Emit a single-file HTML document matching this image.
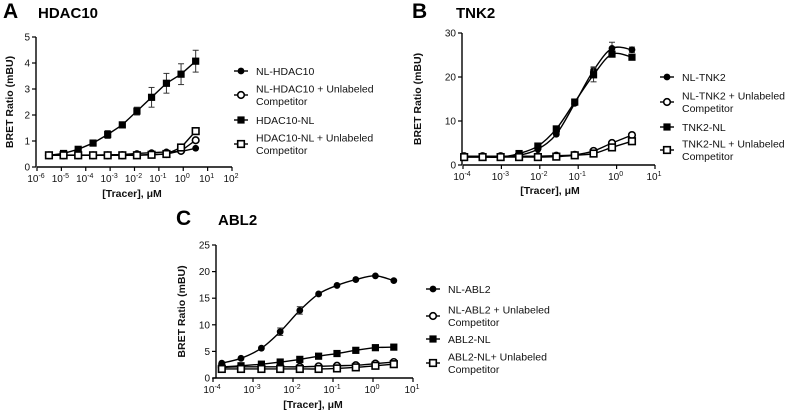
<!DOCTYPE html>
<html><head><meta charset="utf-8">
<style>
body{margin:0;background:#fff;}
svg{display:block;font-family:"Liberation Sans",Arial,sans-serif;}
.tick{font-size:10px;fill:#111;}
.axt{font-size:10.5px;font-weight:bold;fill:#111;}
.leg{font-size:10.5px;fill:#111;}
.pl{font-size:21px;font-weight:bold;fill:#000;}
.pt{font-size:15px;font-weight:bold;fill:#000;}
</style></head><body>
<svg id="fig" width="785" height="414" viewBox="0 0 785 414" xmlns="http://www.w3.org/2000/svg"></svg>
<script>
// ---------- Panel A: HDAC10 ----------
const aLogX = [-5.51,-4.91,-4.31,-3.70,-3.10,-2.50,-1.90,-1.30,-0.69,-0.09,0.51];
const aNlHdac = [0.45,0.46,0.46,0.46,0.47,0.48,0.52,0.55,0.58,0.60,0.72];
const aNlHdacComp = [0.45,0.45,0.45,0.45,0.45,0.45,0.46,0.48,0.50,0.62,1.03];
const aHdacNl = [0.45,0.52,0.68,0.92,1.25,1.62,2.15,2.68,3.22,3.57,4.07];
const aHdacNlErr = [0.02,0.03,0.05,0.06,0.15,0.08,0.15,0.38,0.38,0.4,0.42];
const aHdacNlComp = [0.45,0.45,0.45,0.45,0.45,0.45,0.45,0.47,0.50,0.75,1.38];
const aYTicks = [0,1,2,3,4,5];
const aXTicks = [-6,-5,-4,-3,-2,-1,0,1,2];
const aLegend = [["NL-HDAC10"],["NL-HDAC10 + Unlabeled","Competitor"],["HDAC10-NL"],["HDAC10-NL + Unlabeled","Competitor"]];

// ---------- Panel B: TNK2 ----------
const bLogX = [-3.97,-3.49,-3.02,-2.54,-2.05,-1.57,-1.09,-0.6,-0.12,0.4];
const bNlTnk = [2.0,2.0,2.0,2.2,3.6,7.0,14.0,21.5,26.5,26.2];
const bNlTnkErr = [0,0,0,0,0,0,0,0.8,1.4,0.6];
const bNlTnkComp = [2.0,2.0,2.0,2.0,2.0,2.1,2.3,3.2,5.0,6.8];
const bTnkNl = [1.8,1.8,1.8,2.6,4.3,8.2,14.3,20.5,25.2,24.5];
const bTnkNlErr = [0,0,0,0,0,0,0,1.6,0,0];
const bTnkNlComp = [1.8,1.8,1.8,1.8,1.8,1.9,2.2,2.6,4.0,5.4];
const bYTicks = [0,10,20,30];
const bXTicks = [-4,-3,-2,-1,0,1];
const bLegend = [["NL-TNK2"],["NL-TNK2 + Unlabeled","Competitor"],["TNK2-NL"],["TNK2-NL + Unlabeled","Competitor"]];

// ---------- Panel C: ABL2 ----------
const cLogX = [-3.78,-3.3,-2.79,-2.32,-1.83,-1.36,-0.9,-0.43,0.06,0.52];
const cNlAbl = [2.8,3.7,5.6,8.7,12.7,15.8,17.4,18.5,19.2,18.3];
const cNlAblErr = [0,0,0,0.7,0.7,0,0,0,0,0];
const cNlAblComp = [2.0,2.1,2.1,2.1,2.1,2.2,2.3,2.4,2.7,3.0];
const cAblNl = [2.1,2.3,2.6,3.0,3.5,4.1,4.6,5.2,5.7,5.8];
const cAblNlComp = [1.7,1.7,1.7,1.7,1.7,1.7,1.8,2.0,2.3,2.6];
const cYTicks = [0,5,10,15,20,25];
const cXTicks = [-4,-3,-2,-1,0,1];
const cLegend = [["NL-ABL2"],["NL-ABL2 + Unlabeled","Competitor"],["ABL2-NL"],["ABL2-NL+ Unlabeled","Competitor"]];

const NS="http://www.w3.org/2000/svg";
const svg=document.getElementById('fig');
function mk(tag,attrs,parent){const e=document.createElementNS(NS,tag);for(const k in attrs)e.setAttribute(k,attrs[k]);(parent||svg).appendChild(e);return e;}
function txt(s,x,y,cls,parent,anchor){const t=mk('text',{x:x,y:y,class:cls,'text-anchor':anchor||'start'},parent);t.textContent=s;return t;}

function marker(g,type,x,y){
  let m;
  if(type==='fc'){m=mk('circle',{cx:x,cy:y,r:3.4,fill:'#000'},g);}
  else if(type==='oc'){m=mk('circle',{cx:x,cy:y,r:3.3,fill:'#fff',stroke:'#000','stroke-width':1.6},g);}
  else if(type==='fs'){m=mk('rect',{x:x-3.6,y:y-3.6,width:7.2,height:7.2,fill:'#000'},g);}
  else {m=mk('rect',{x:x-3.3,y:y-3.3,width:6.6,height:6.6,fill:'#fff',stroke:'#000','stroke-width':1.6},g);}
  return m;
}
function smoothPath(pts){
  let d='M'+pts[0][0]+','+pts[0][1];
  for(let i=0;i<pts.length-1;i++){
    const p0=pts[Math.max(0,i-1)],p1=pts[i],p2=pts[i+1],p3=pts[Math.min(pts.length-1,i+2)];
    const c1x=p1[0]+(p2[0]-p0[0])/6,c1y=p1[1]+(p2[1]-p0[1])/6;
    const c2x=p2[0]-(p3[0]-p1[0])/6,c2y=p2[1]-(p3[1]-p1[1])/6;
    d+=' C'+c1x+','+c1y+' '+c2x+','+c2y+' '+p2[0]+','+p2[1];
  }
  return d;
}

function panel(cfg){
  const g=mk('g',{});
  
  
  const X=v=>cfg.x0+(v-cfg.xmin)/(cfg.xmax-cfg.xmin)*(cfg.x1-cfg.x0);
  const Y=v=>cfg.y0-(v/cfg.ymax)*(cfg.y0-cfg.y1);
  const pl=txt(cfg.letter,cfg.lx,cfg.ly,'pl',g);
  
  const pt=txt(cfg.title,cfg.tx,cfg.ly,'pt',g);
  
  const ya=mk('line',{x1:cfg.ax,y1:cfg.y0,x2:cfg.ax,y2:cfg.y1,stroke:'#000','stroke-width':1.4},g);
  
  const xa=mk('line',{x1:X(cfg.xmin),y1:cfg.y0,x2:X(cfg.xmax),y2:cfg.y0,stroke:'#000','stroke-width':1.4},g);
  
  cfg.yt.forEach(v=>{
    mk('line',{x1:cfg.ax-4,y1:Y(v),x2:cfg.ax,y2:Y(v),stroke:'#000','stroke-width':1.2},g);
    const t=txt(String(v),cfg.ax-6,Y(v)+3.5,'tick',g,'end');
    
  });
  cfg.xt.forEach(v=>{
    mk('line',{x1:X(v),y1:cfg.y0,x2:X(v),y2:cfg.y0+4,stroke:'#000','stroke-width':1.2},g);
    const t=mk('text',{x:X(v)-1,y:cfg.y0+15,class:'tick','text-anchor':'middle'},g);
    
    const a=mk('tspan',{},t);a.textContent='10';
    const b=mk('tspan',{dy:-4,'font-size':'7px'},t);b.textContent=String(v);
  });
  const yt=txt('BRET Ratio (mBU)',0,0,'axt',g,'middle');
  yt.setAttribute('transform','translate('+cfg.ytx+','+((cfg.y0+cfg.y1)/2)+') rotate(-90)');
  
  const xt=txt('[Tracer], μM',cfg.xtx,cfg.xty,'axt',g,'middle');
  
  cfg.series.forEach(s=>{
    const sg=mk('g',{},g);
    
    
    const pts=cfg.lx_.map((lx,i)=>[X(lx),Y(s.v[i])]);
    if(cfg.smooth){const p=mk('path',{d:smoothPath(pts),fill:'none',stroke:'#000','stroke-width':1.4},sg);}
    else{const p=mk('polyline',{points:pts.map(p=>p.join(',')).join(' '),fill:'none',stroke:'#000','stroke-width':1.4},sg);}
    if(s.err){s.err.forEach((e,i)=>{if(e>0){const x=pts[i][0];const a=Y(s.v[i]+e),b=Y(s.v[i]-e);
      mk('line',{x1:x,y1:a,x2:x,y2:b,stroke:'#333','stroke-width':1},sg);
      mk('line',{x1:x-3,y1:a,x2:x+3,y2:a,stroke:'#333','stroke-width':1},sg);
      mk('line',{x1:x-3,y1:b,x2:x+3,y2:b,stroke:'#333','stroke-width':1},sg);}});}
    pts.forEach(p=>{const m=marker(sg,s.type,p[0],p[1]);
      
      });
  });
  const types=['fc','oc','fs','os'];
  cfg.legend.forEach((lines,i)=>{
    const lg=mk('g',{},g);
    
    
    const cy=cfg.legY[i];
    mk('line',{x1:cfg.legX-7,y1:cy,x2:cfg.legX+7,y2:cy,stroke:'#000','stroke-width':1.4},lg);
    marker(lg,types[i],cfg.legX,cy);
    if(lines.length===1)txt(lines[0],cfg.legX+15,cy+3.8,'leg',lg);
    else{txt(lines[0],cfg.legX+15,cy-2.5,'leg',lg);txt(lines[1],cfg.legX+15,cy+10,'leg',lg);}
  });
}

panel({name:'panel-a-hdac10',letter:'A',title:'HDAC10',lx:3,tx:38,ly:18,ax:36,x0:37,x1:232,xmin:-6,xmax:2,y0:167,y1:37,ymax:5,
  yt:aYTicks,xt:aXTicks,ytx:13,xtx:132,xty:197,lx_:aLogX,smooth:false,
  series:[{name:'series-nl-hdac10',type:'fc',v:aNlHdac},{name:'series-nl-hdac10-competitor',type:'oc',v:aNlHdacComp},
          {name:'series-hdac10-nl',type:'fs',v:aHdacNl,err:aHdacNlErr},{name:'series-hdac10-nl-competitor',type:'os',v:aHdacNlComp}],
  legend:aLegend,legX:241,legY:[71,95,120,144]});

panel({name:'panel-b-tnk2',letter:'B',title:'TNK2',lx:412,tx:456,ly:18,ax:462,x0:463,x1:655,xmin:-4,xmax:1,y0:165,y1:33,ymax:30,
  yt:bYTicks,xt:bXTicks,ytx:421,xtx:550,xty:194,lx_:bLogX,smooth:true,
  series:[{name:'series-nl-tnk2',type:'fc',v:bNlTnk,err:bNlTnkErr},{name:'series-nl-tnk2-competitor',type:'oc',v:bNlTnkComp},
          {name:'series-tnk2-nl',type:'fs',v:bTnkNl,err:bTnkNlErr},{name:'series-tnk2-nl-competitor',type:'os',v:bTnkNlComp}],
  legend:bLegend,legX:667,legY:[77,102,127,150]});

panel({name:'panel-c-abl2',letter:'C',title:'ABL2',lx:176,tx:218,ly:225,ax:216,x0:213,x1:413,xmin:-4,xmax:1,y0:378,y1:245,ymax:25,
  yt:cYTicks,xt:cXTicks,ytx:185,xtx:313,xty:408,lx_:cLogX,smooth:true,
  series:[{name:'series-nl-abl2',type:'fc',v:cNlAbl,err:cNlAblErr},{name:'series-nl-abl2-competitor',type:'oc',v:cNlAblComp},
          {name:'series-abl2-nl',type:'fs',v:cAblNl},{name:'series-abl2-nl-competitor',type:'os',v:cAblNlComp}],
  legend:cLegend,legX:433,legY:[289,316,339,363]});
</script>
</body></html>
